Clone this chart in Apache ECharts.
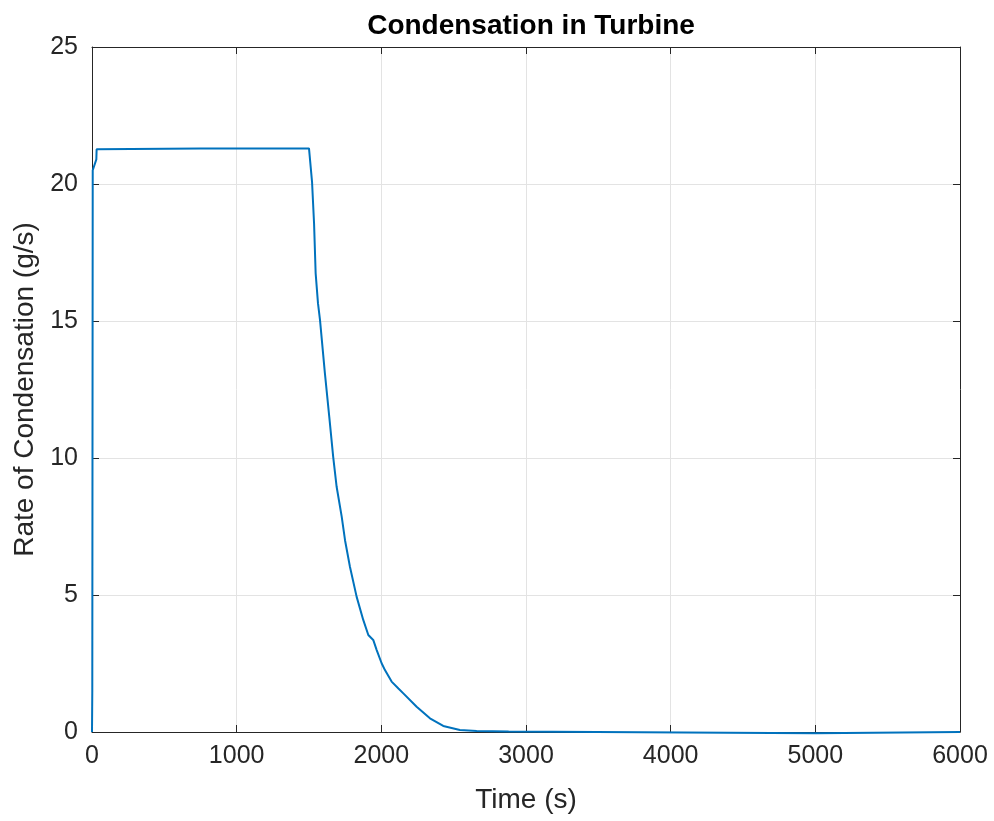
<!DOCTYPE html>
<html>
<head>
<meta charset="utf-8">
<title>Condensation in Turbine</title>
<script src="https://cdn.jsdelivr.net/npm/echarts@6/dist/echarts.min.js"></script>
<style>
    html, body { margin: 0; padding: 0; background: #ffffff; }
    #condGraph { width: 994px; height: 821px; }
</style>
</head>
<body>
<div id="condGraph"></div>
<script>
// 시간 (s)
var arr_time = [
    0, 2, 5, 30, 32, 750, 1500,
    1521, 1535, 1546, 1562, 1576, 1610, 1640, 1667,
    1691, 1726, 1749, 1783, 1829, 1875, 1910, 1944, 1968,
    2002, 2025, 2071, 2118, 2152, 2244, 2336, 2428, 2543, 2659,
    2880, 2890, 5000, 5010, 6000
];
// 응축률 (g/s)
var arr_rate = [
    0, 1.5, 20.5, 20.9, 21.27, 21.3, 21.3,
    20.08, 18.56, 16.74, 15.65, 15.04, 13.09, 11.51, 10.05,
    8.95, 7.86, 7.0, 6.03, 4.94, 4.09, 3.54, 3.36, 2.99,
    2.51, 2.26, 1.84, 1.59, 1.41, 0.92, 0.50, 0.22, 0.07, 0.04,
    0.02, -0.05, -0.05, 0, 0
];
var arr_xTicks = [0, 1000, 2000, 3000, 4000, 5000, 6000];
var arr_yTicks = [0, 5, 10, 15, 20, 25];

var condGraph = echarts.init(document.getElementById('condGraph'));

var seriesData = [];
for (var i = 0; i < arr_time.length; i++) {
    seriesData.push([arr_time[i], arr_rate[i]]);
}

var axisColor = '#262626';
var gridColor = '#e3e3e3';
var fontName = 'Liberation Sans, Arial, Helvetica, sans-serif';

/*공통 축 옵션*/
function boxAxis(pos, min, max, interval, showLabel, showGrid) {
    return {
        type: 'value',
        position: pos,
        min: min,
        max: max,
        interval: interval,
        axisLine: { show: true, onZero: false, lineStyle: { color: axisColor, width: 1 } },
        axisTick: { show: true, inside: true, length: 7, lineStyle: { color: axisColor } },
        axisLabel: {
            show: showLabel,
            color: axisColor,
            fontFamily: fontName,
            fontSize: 25,
            margin: 14,
            formatter: function(v) { return String(v); }
        },
        splitLine: { show: showGrid, lineStyle: { color: gridColor, width: 1 } }
    };
}

var xMain = boxAxis('bottom', arr_xTicks[0], arr_xTicks[arr_xTicks.length - 1], 1000, true, true);
xMain.name = 'Time (s)';
xMain.nameLocation = 'middle';
xMain.nameGap = 54;
xMain.nameTextStyle = { color: axisColor, fontFamily: fontName, fontSize: 28 };
xMain.axisLabel.margin = 12;

var yMain = boxAxis('left', arr_yTicks[0], arr_yTicks[arr_yTicks.length - 1], 5, true, true);
yMain.name = 'Rate of Condensation (g/s)';
yMain.nameLocation = 'middle';
yMain.nameGap = 51;
yMain.nameTextStyle = { color: axisColor, fontFamily: fontName, fontSize: 28 };

var option = {
    backgroundColor: '#ffffff',
    animation: false,
    title: {
        text: 'Condensation in Turbine',
        left: 526,
        textAlign: 'center',
        top: 7,
        textStyle: { color: '#000000', fontFamily: fontName, fontSize: 28, fontWeight: 'bold' }
    },
    grid: {
        left: 92,
        right: 34,
        top: 47,
        bottom: 89,
        containLabel: false,
        outerBoundsMode: 'none'
    },
    xAxis: [
        xMain,
        boxAxis('top', arr_xTicks[0], arr_xTicks[arr_xTicks.length - 1], 1000, false, false)
    ],
    yAxis: [
        yMain,
        boxAxis('right', arr_yTicks[0], arr_yTicks[arr_yTicks.length - 1], 5, false, false)
    ],
    series: [
        {
            name: 'Rate',
            type: 'line',
            xAxisIndex: 0,
            yAxisIndex: 0,
            data: seriesData,
            showSymbol: false,
            clip: false,
            lineStyle: { color: '#0072BD', width: 2 }
        }
    ]
};

condGraph.setOption(option);
</script>
</body>
</html>
